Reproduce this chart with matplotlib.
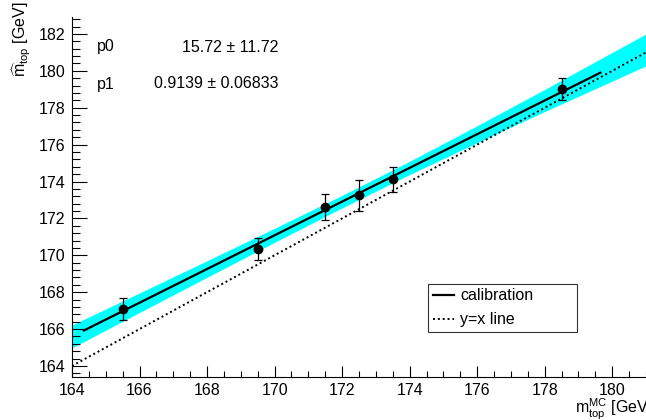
import numpy as np
import matplotlib
matplotlib.use("Agg")
import matplotlib.pyplot as plt
from matplotlib.ticker import MultipleLocator
from matplotlib.lines import Line2D

plt.rcParams['font.family'] = ['Liberation Sans', 'DejaVu Sans']
plt.rcParams['mathtext.fontset'] = 'custom'
plt.rcParams['mathtext.rm'] = 'Liberation Sans'
plt.rcParams['mathtext.it'] = 'Liberation Sans'

# data
m_mc = [165.5, 169.5, 171.5, 172.5, 173.5, 178.5]
m_fit = [167.1, 170.35, 172.62, 173.25, 174.12, 179.0]
m_err = [0.6, 0.6, 0.72, 0.85, 0.68, 0.6]

p0, p0_err = 15.72, 11.72
p1, p1_err = 0.9139, 0.06833
fit_range = [164.35, 179.65]

band_x = [164.0, 166.0, 168.0, 170.0, 172.0, 174.0, 176.0, 178.0, 180.0, 181.2]
band_half = [0.62, 0.53, 0.45, 0.38, 0.34, 0.36, 0.46, 0.6, 0.78, 0.88]

xlim = (164.0, 181.0)
ylim = (163.4, 182.92)

fig = plt.figure(figsize=(6.46, 4.2), dpi=100)
ax = fig.add_axes([72/646, 1-377/420, 1-72/646, (377-17)/420])

bx = np.array(band_x)
bc = p0 + p1*bx
bh = np.array(band_half)
ax.fill_between(bx, bc-bh, bc+bh, color='#00ffff', lw=0, zorder=1)

fx = np.linspace(fit_range[0], fit_range[1], 50)
ax.plot(fx, p0 + p1*fx, color='black', lw=1.6, zorder=3)

lx = np.array([xlim[0], xlim[1] + 0.3])
ax.plot(lx, lx, color='black', lw=1.4, ls=(0, (1, 1.5)), zorder=2)

ax.errorbar(m_mc, m_fit, yerr=m_err, fmt='o', color='black', ms=6,
            elinewidth=0.9, capsize=3, capthick=0.9, zorder=4)

ax.set_xlim(*xlim)
ax.set_ylim(*ylim)
ax.xaxis.set_major_locator(MultipleLocator(2))
ax.xaxis.set_minor_locator(MultipleLocator(0.5))
ax.yaxis.set_major_locator(MultipleLocator(2))
ax.yaxis.set_minor_locator(MultipleLocator(0.4))
ax.tick_params(axis='both', which='both', direction='in', labelsize=11.5, width=0.8)
ax.tick_params(axis='x', which='major', length=8, pad=4)
ax.tick_params(axis='x', which='minor', length=4)
ax.tick_params(axis='y', which='major', length=11, pad=5)
ax.tick_params(axis='y', which='minor', length=5.5)
ax.spines['top'].set_visible(False)
ax.spines['right'].set_visible(False)

ax.set_xlabel(r'$\mathregular{m_{top}^{MC}}$ [GeV]', fontsize=11.5)
ax.xaxis.set_label_coords(1.012, -0.055)
ax.xaxis.label.set_horizontalalignment('right')
ax.set_ylabel(r'$\widehat{\mathregular{m}}_{\mathregular{top}}$ [GeV]', fontsize=11.5)
ax.yaxis.set_label_coords(-0.108, 1.045)
ax.yaxis.label.set_verticalalignment('top')
ax.yaxis.label.set_horizontalalignment('right')

fig.text(97/646, 1-47/420, 'p0', fontsize=11.5, va='center', ha='left')
fig.text(278/646, 1-47/420, f'{p0:.2f} \u00b1 {p0_err:.2f}', fontsize=11.5, va='center', ha='right')
fig.text(97/646, 1-84/420, 'p1', fontsize=11.5, va='center', ha='left')
fig.text(278/646, 1-84/420, f'{p1:.4f} \u00b1 {p1_err:.5f}', fontsize=11.5, va='center', ha='right')

handles = [Line2D([], [], color='black', lw=1.6),
           Line2D([], [], color='black', lw=1.4, ls=(0, (1, 1.5)))]
leg = ax.legend(handles, ['calibration', 'y=x line'], loc='lower left',
                bbox_to_anchor=(428/646, 1-332/420, (577-428)/646, (332-283)/420),
                bbox_transform=fig.transFigure, mode='expand',
                fontsize=11.5, frameon=True, fancybox=False, handlelength=1.3,
                handletextpad=0.4, borderpad=0.3, labelspacing=0.55, borderaxespad=0)
leg.get_frame().set_edgecolor('black')
leg.get_frame().set_linewidth(0.8)

fig.savefig('out.png', dpi=100)
